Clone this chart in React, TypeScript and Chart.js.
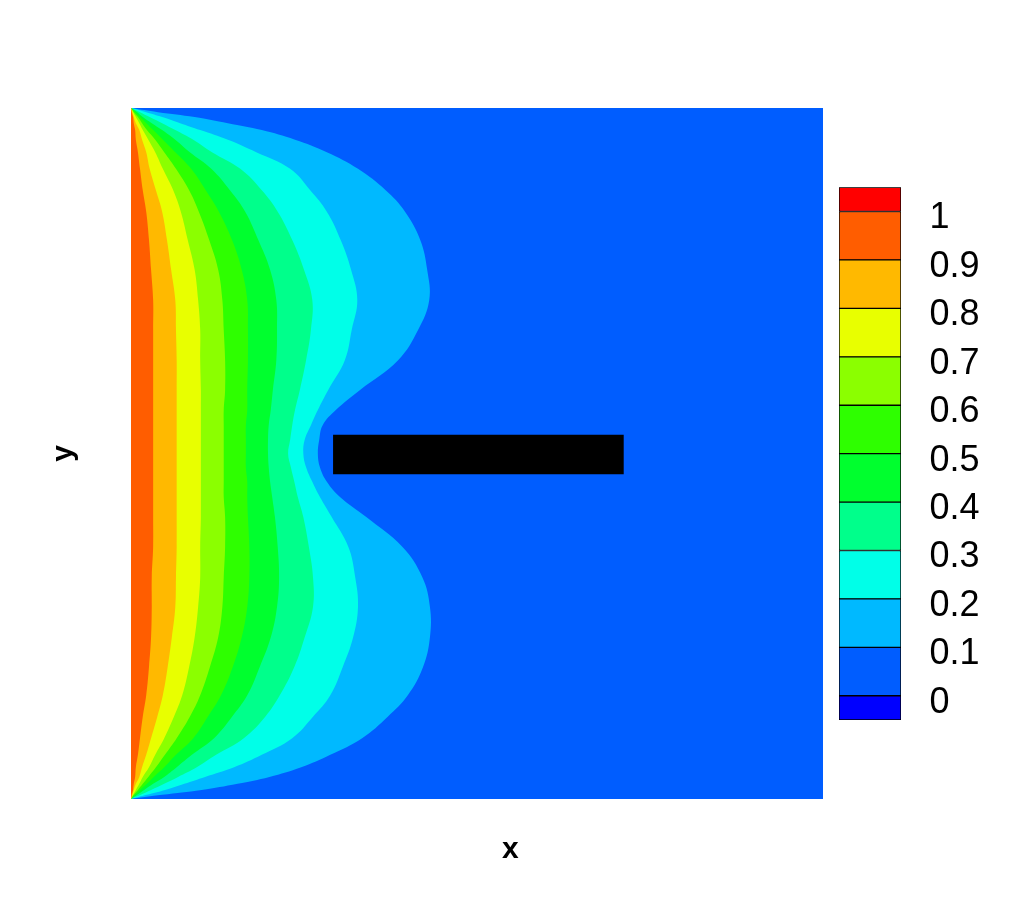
import React, { useEffect, useRef } from 'react';
import { Chart, registerables } from 'chart.js';

Chart.register(...registerables);

// ---------- data ----------
// contour levels drawn in the plot (filled region left of each iso-line is >= level)
const levels = [0.1, 0.2, 0.3, 0.4, 0.5, 0.6, 0.7, 0.8, 0.9];

// band colours, from below 0 up to above 1
const bandColors = [
  '#0000ff', '#005dff', '#00b9ff', '#00ffe8', '#00ff8b', '#00ff2e',
  '#2eff00', '#8bff00', '#e8ff00', '#ffb900', '#ff5d00', '#ff0000',
];

// plot domain
const xDomain = [0, 1];
const yDomain = [0, 1];

// y positions where the iso-lines are sampled (top to bottom)
const yGrid = [
  1, 0.994, 0.987, 0.978, 0.968, 0.954, 0.936, 0.912, 0.881, 0.85,
  0.809, 0.766, 0.722, 0.679, 0.635, 0.592, 0.563, 0.541, 0.52, 0.5,
  0.48, 0.459, 0.437, 0.408, 0.365, 0.321, 0.278, 0.234, 0.191, 0.15,
  0.119, 0.088, 0.064, 0.046, 0.032, 0.022, 0.013, 0.006, 0,
];

// x of each iso-line at yGrid
const x01 = [
  0, 0.039, 0.092, 0.14, 0.189, 0.237, 0.283, 0.328, 0.368, 0.396,
  0.418, 0.428, 0.431, 0.415, 0.386, 0.331, 0.296, 0.277, 0.272, 0.27,
  0.273, 0.283, 0.302, 0.34, 0.392, 0.421, 0.432, 0.432, 0.422, 0.4,
  0.371, 0.334, 0.288, 0.246, 0.2, 0.154, 0.102, 0.045, 0,
];
const x02 = [
  0, 0.022, 0.045, 0.071, 0.1, 0.14, 0.181, 0.23, 0.259, 0.283,
  0.303, 0.318, 0.327, 0.319, 0.309, 0.285, 0.27, 0.26, 0.251, 0.249,
  0.253, 0.262, 0.273, 0.29, 0.314, 0.324, 0.328, 0.321, 0.306, 0.288,
  0.263, 0.233, 0.189, 0.149, 0.107, 0.077, 0.049, 0.023, 0,
];
const x03 = [
  0, 0.013, 0.027, 0.045, 0.064, 0.09, 0.117, 0.158, 0.189, 0.212,
  0.233, 0.25, 0.262, 0.26, 0.253, 0.244, 0.237, 0.233, 0.23, 0.227,
  0.231, 0.236, 0.241, 0.249, 0.257, 0.263, 0.263, 0.251, 0.236, 0.215,
  0.194, 0.163, 0.123, 0.095, 0.068, 0.048, 0.029, 0.014, 0,
];
const x04 = [
  0, 0.009, 0.017, 0.03, 0.045, 0.064, 0.085, 0.116, 0.143, 0.165,
  0.184, 0.201, 0.21, 0.211, 0.21, 0.205, 0.202, 0.199, 0.198, 0.198,
  0.199, 0.201, 0.204, 0.208, 0.212, 0.214, 0.211, 0.202, 0.186, 0.168,
  0.146, 0.12, 0.088, 0.066, 0.048, 0.032, 0.019, 0.009, 0,
];
const x05 = [
  0, 0.006, 0.013, 0.022, 0.032, 0.046, 0.064, 0.087, 0.108, 0.127,
  0.146, 0.16, 0.168, 0.169, 0.169, 0.168, 0.168, 0.166, 0.166, 0.166,
  0.166, 0.168, 0.168, 0.169, 0.171, 0.171, 0.168, 0.16, 0.147, 0.13,
  0.111, 0.09, 0.065, 0.048, 0.033, 0.023, 0.013, 0.006, 0,
];
const x06 = [
  0, 0.004, 0.01, 0.016, 0.023, 0.035, 0.048, 0.065, 0.084, 0.098,
  0.113, 0.126, 0.132, 0.134, 0.136, 0.136, 0.134, 0.134, 0.134, 0.134,
  0.134, 0.134, 0.134, 0.136, 0.136, 0.134, 0.132, 0.126, 0.114, 0.1,
  0.085, 0.066, 0.049, 0.036, 0.025, 0.017, 0.01, 0.004, 0,
];
const x07 = [
  0, 0.003, 0.007, 0.012, 0.017, 0.025, 0.035, 0.046, 0.061, 0.072,
  0.082, 0.092, 0.097, 0.1, 0.1, 0.101, 0.101, 0.101, 0.101, 0.101,
  0.101, 0.101, 0.101, 0.101, 0.1, 0.1, 0.097, 0.092, 0.084, 0.074,
  0.062, 0.048, 0.035, 0.026, 0.017, 0.012, 0.007, 0.003, 0,
];
const x08 = [
  0, 0.002, 0.004, 0.007, 0.012, 0.016, 0.022, 0.027, 0.036, 0.045,
  0.052, 0.058, 0.064, 0.065, 0.066, 0.066, 0.066, 0.066, 0.066, 0.066,
  0.066, 0.066, 0.066, 0.066, 0.066, 0.065, 0.064, 0.059, 0.053, 0.046,
  0.038, 0.029, 0.022, 0.016, 0.012, 0.007, 0.004, 0.002, 0,
];
const x09 = [
  0, 0.001, 0.003, 0.004, 0.006, 0.007, 0.01, 0.013, 0.017, 0.022,
  0.026, 0.029, 0.032, 0.032, 0.032, 0.032, 0.032, 0.032, 0.032, 0.032,
  0.032, 0.032, 0.032, 0.032, 0.032, 0.03, 0.03, 0.029, 0.026, 0.022,
  0.017, 0.013, 0.01, 0.007, 0.006, 0.004, 0.003, 0.001, 0,
];
const contourX = [x01, x02, x03, x04, x05, x06, x07, x08, x09];

// solid obstacle (plate)
const obstacleX = [0.292, 0.712];
const obstacleY = [0.47, 0.527];

// colour bar
const cbLow = [-0.05, 0, 0.1, 0.2, 0.3, 0.4, 0.5, 0.6, 0.7, 0.8, 0.9, 1.0];
const cbHigh = [0, 0.1, 0.2, 0.3, 0.4, 0.5, 0.6, 0.7, 0.8, 0.9, 1.0, 1.05];
const cbTicks = [0, 0.1, 0.2, 0.3, 0.4, 0.5, 0.6, 0.7, 0.8, 0.9, 1];
const cbLabels = ['0', '0.1', '0.2', '0.3', '0.4', '0.5', '0.6', '0.7', '0.8', '0.9', '1'];

const FONT = '"Liberation Sans", Arial, Helvetica, sans-serif';

function rect(xs: number[], ys: number[]) {
  return [
    { x: xs[0], y: ys[0] },
    { x: xs[1], y: ys[0] },
    { x: xs[1], y: ys[1] },
    { x: xs[0], y: ys[1] },
  ];
}

export default function App() {
  const mainRef = useRef<HTMLCanvasElement | null>(null);
  const barRef = useRef<HTMLCanvasElement | null>(null);

  useEffect(() => {
    if (!mainRef.current || !barRef.current) return;

    const shape = (data: any[], color: string, tension: number) => ({
      data,
      showLine: true,
      fill: 'shape',
      backgroundColor: color,
      borderColor: 'rgba(0,0,0,0)',
      borderWidth: 0,
      pointRadius: 0,
      tension,
    });

    const datasets: any[] = [];
    datasets.push(shape(rect(obstacleX, obstacleY), '#000000', 0));
    for (let k = levels.length - 1; k >= 0; k--) {
      const pts = contourX[k].map((x, i) => ({ x, y: yGrid[i] }));
      datasets.push(shape(pts, bandColors[k + 2], 0.4));
    }
    datasets.push(shape(rect(xDomain, yDomain), bandColors[1], 0));

    const main = new Chart(mainRef.current, {
      type: 'scatter',
      data: { datasets },
      options: {
        animation: false,
        responsive: false,
        maintainAspectRatio: false,
        events: [],
        layout: { padding: { left: 0, right: 189, top: 108, bottom: 32.6 } },
        plugins: { legend: { display: false }, tooltip: { enabled: false } },
        scales: {
          x: {
            type: 'linear',
            min: xDomain[0],
            max: xDomain[1],
            ticks: { display: false },
            grid: { display: false, drawTicks: false },
            border: { display: false },
            title: {
              display: true,
              text: '        x',
              color: '#000',
              font: { family: FONT, size: 30, weight: 'bold' },
              padding: { top: 32.4, bottom: 0 },
            },
          },
          y: {
            type: 'linear',
            min: yDomain[0],
            max: yDomain[1],
            ticks: { display: false },
            grid: { display: false, drawTicks: false },
            border: { display: false },
            title: {
              display: true,
              text: 'y',
              color: '#000',
              font: { family: FONT, size: 30, weight: 'bold' },
              padding: { top: 45.6, bottom: 49.4 },
            },
          },
        },
      } as any,
    });

    const bar = new Chart(barRef.current, {
      type: 'bar',
      data: {
        labels: [''],
        datasets: cbLow.map((lo, i) => ({
          data: [[lo, cbHigh[i]]],
          backgroundColor: bandColors[i],
          borderColor: '#000',
          borderWidth: 1,
          borderSkipped: false,
          barPercentage: 1,
          categoryPercentage: 1,
          grouped: false,
        })) as any,
      },
      options: {
        animation: false,
        responsive: false,
        maintainAspectRatio: false,
        events: [],
        layout: { padding: { left: 19, right: 0, top: 57.3, bottom: 60 } },
        plugins: { legend: { display: false }, tooltip: { enabled: false } },
        scales: {
          x: { display: false },
          y: {
            position: 'right',
            min: cbLow[0],
            max: cbHigh[cbHigh.length - 1],
            grid: { display: false, drawTicks: false },
            border: { display: false },
            afterBuildTicks: (s: any) => {
              s.ticks = cbTicks.map((v) => ({ value: v }));
            },
            afterFit: (s: any) => {
              s.width = 111;
            },
            ticks: {
              autoSkip: false,
              padding: 28.5,
              labelOffset: 7,
              color: '#000',
              font: { family: FONT, size: 36 },
              callback: (_v: any, i: number) => cbLabels[i],
            },
          },
        },
      } as any,
    });

    return () => {
      main.destroy();
      bar.destroy();
    };
  }, []);

  return (
    <div style={{ position: 'absolute', left: 0, top: 0, width: 1012, height: 900, background: '#fff' }}>
      <canvas ref={mainRef} width={1012} height={900} style={{ position: 'absolute', left: 0, top: 0 }} />
      <canvas ref={barRef} width={192} height={650} style={{ position: 'absolute', left: 820, top: 130 }} />
    </div>
  );
}
